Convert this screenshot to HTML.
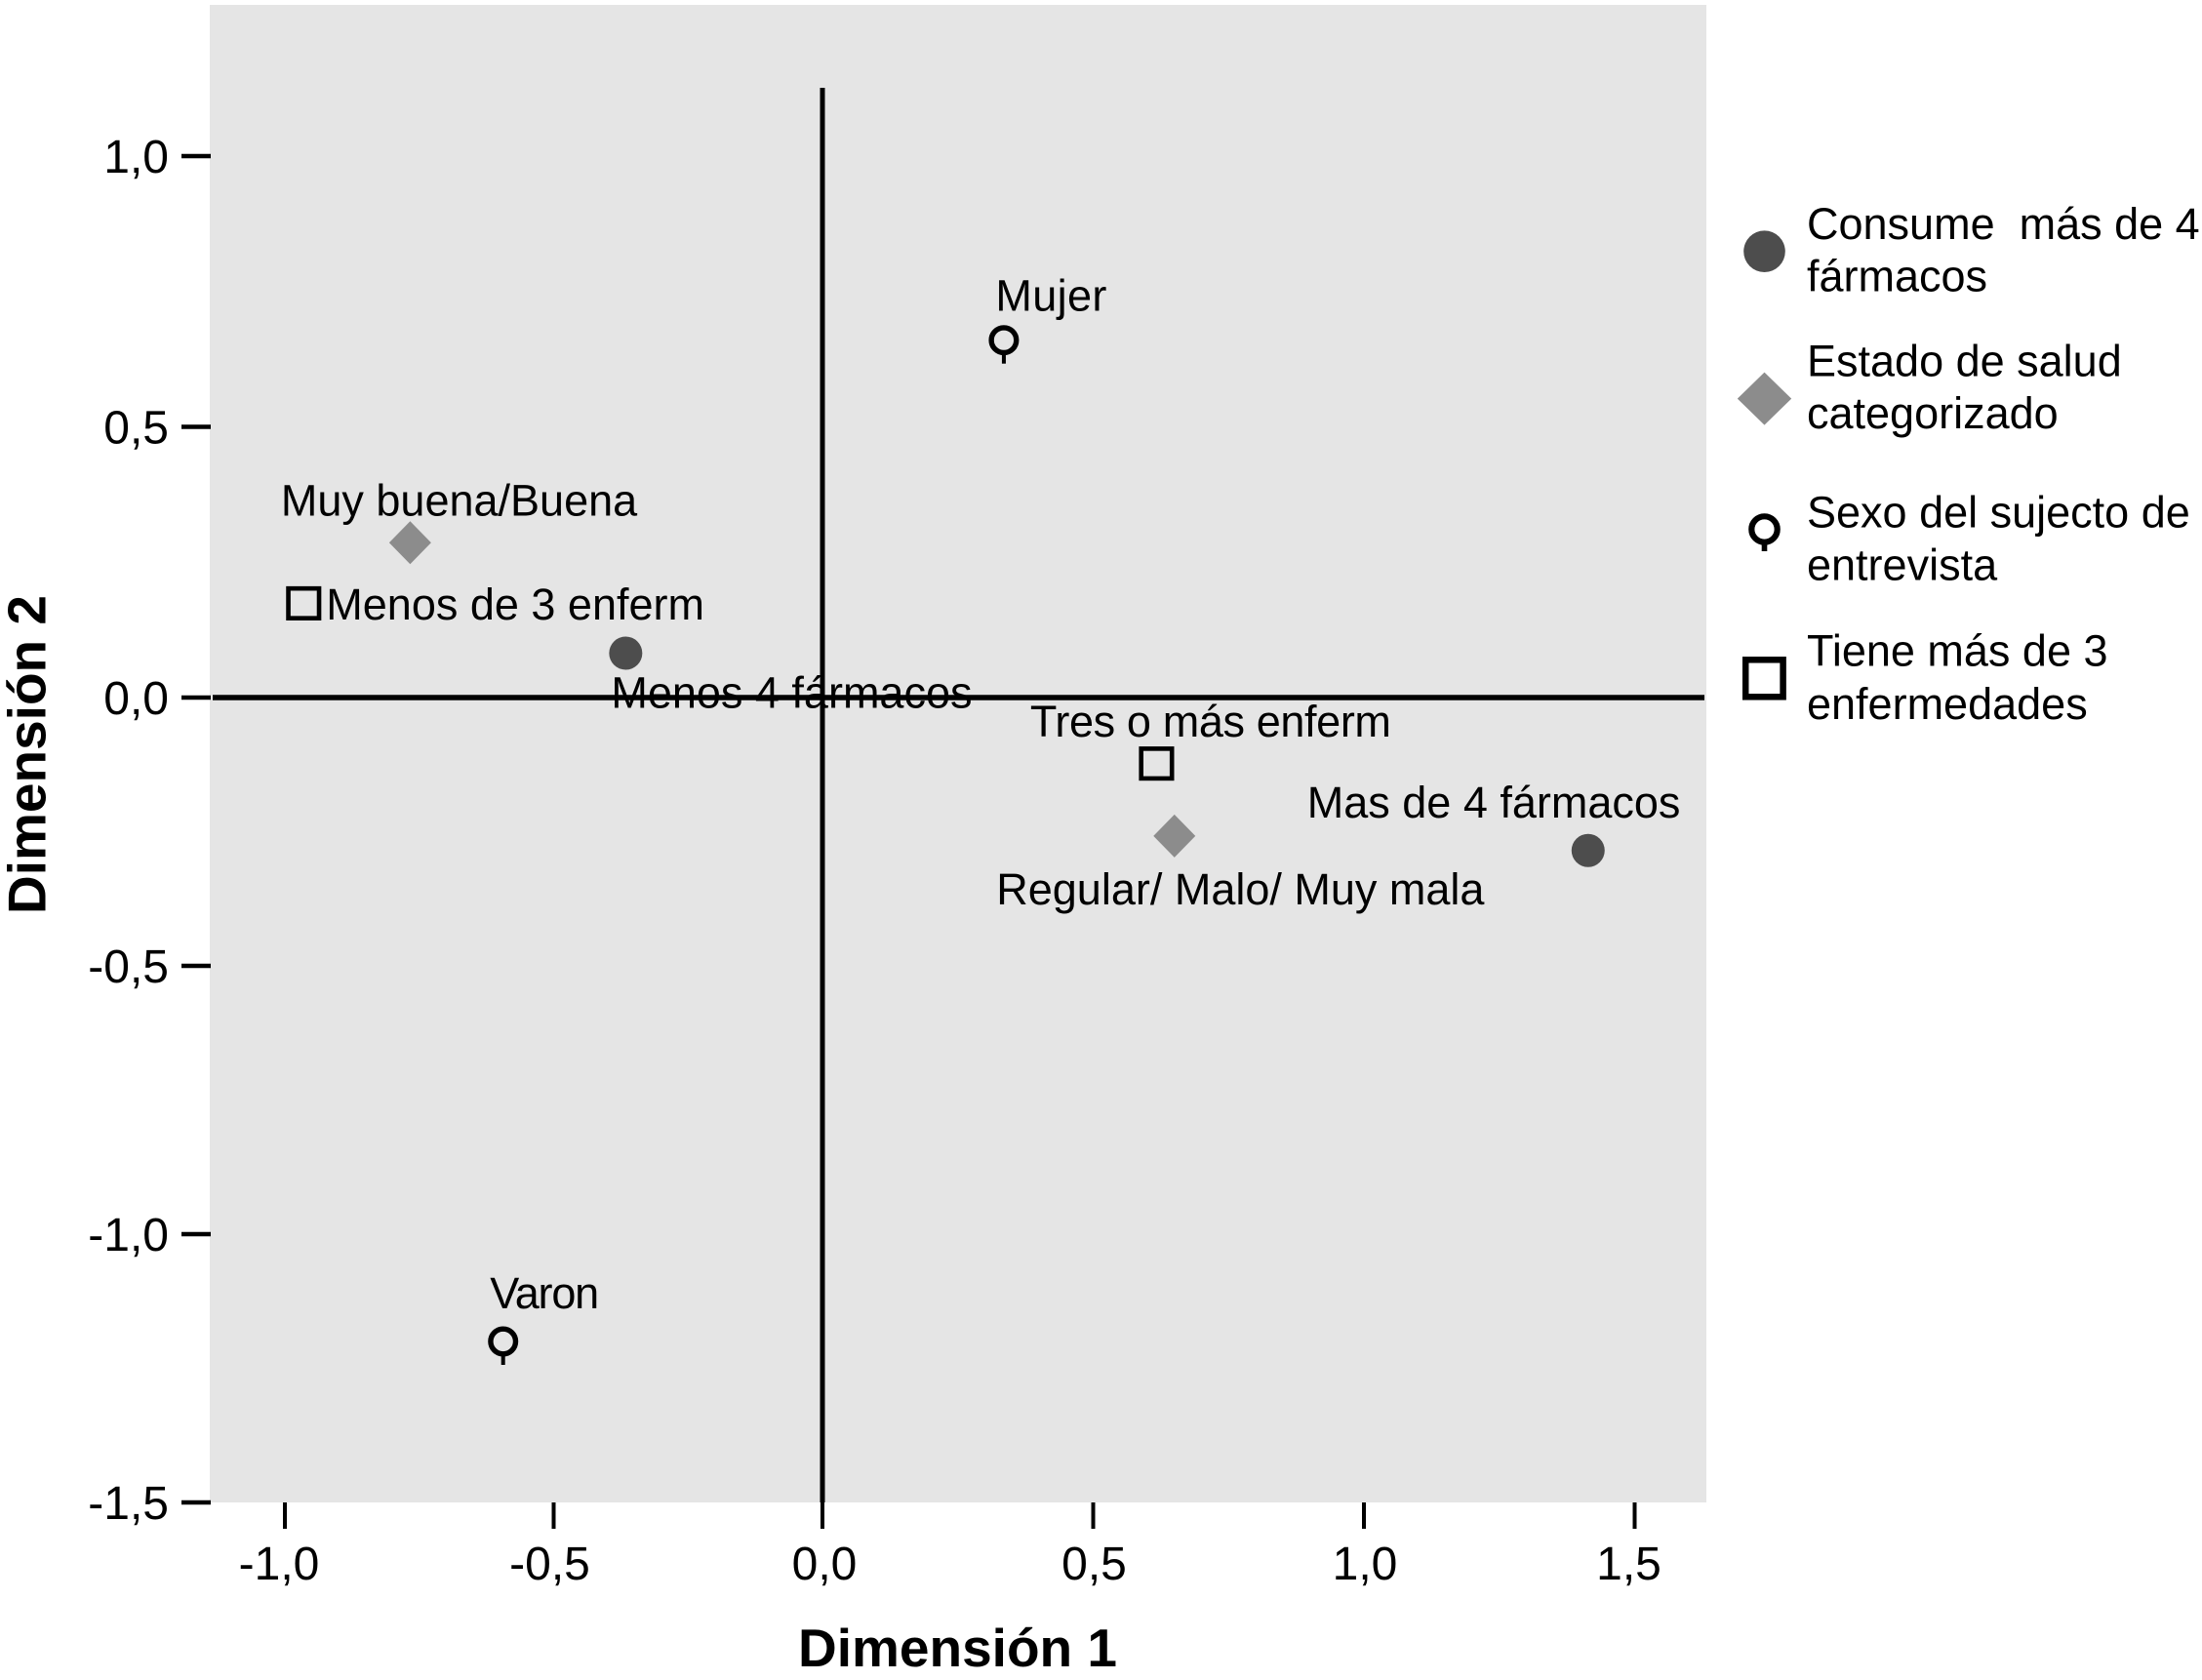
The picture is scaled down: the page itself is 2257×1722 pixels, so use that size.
<!DOCTYPE html>
<html lang="es">
<head>
<meta charset="utf-8">
<title>Dimensión 1 / Dimensión 2</title>
<style>
html,body{margin:0;padding:0;background:#fff;}
svg{display:block;}
text{font-family:"Liberation Sans",Arial,sans-serif;fill:#000;white-space:pre;}
</style>
</head>
<body>
<svg id="chart" xmlns="http://www.w3.org/2000/svg" width="2257" height="1722" viewBox="0 0 2257 1722">
  <rect x="0" y="0" width="2257" height="1722" fill="#fff"/>
  <rect x="215" y="5" width="1534" height="1535" fill="#e5e5e5"/>
  <g id="axes"></g>
  <g id="marks"></g>
  <text x="818" y="1708" font-size="55" font-weight="700">Dimensión 1</text>
  <text transform="translate(46.5,937) rotate(-90)" font-size="55" font-weight="700">Dimensión 2</text>
  <g>
    <g>
      <circle cx="1808.5" cy="257.7" r="21.3" fill="#4d4d4d"/>
      <text x="1852" y="245" font-size="45">Consume  más de 4</text>
      <text x="1852" y="298.5" font-size="45">fármacos</text>
    </g>
    <g>
      <polygon points="1808.5,381.6 1836.2,408.6 1808.5,435.6 1780.8,408.6" fill="#8c8c8c"/>
      <text x="1852" y="385.5" font-size="45">Estado de salud</text>
      <text x="1852" y="439" font-size="45">categorizado</text>
    </g>
    <g>
      <circle cx="1808.5" cy="542.5" r="13.2" fill="none" stroke="#000" stroke-width="6.2"/>
      <rect x="1805.7" y="556" width="5.6" height="9" fill="#000"/>
      <text x="1852" y="540.5" font-size="45">Sexo del sujecto de</text>
      <text x="1852" y="594.5" font-size="45">entrevista</text>
    </g>
    <g>
      <rect x="1789.2" y="676.3" width="38.4" height="38" fill="none" stroke="#000" stroke-width="6.5"/>
      <text x="1852" y="682.5" font-size="45">Tiene más de 3</text>
      <text x="1852" y="737" font-size="45">enfermedades</text>
    </g>
  </g>
</svg>
<script>
const pointLabels = ["Muy buena/Buena","Menos de 3 enferm","Menos 4 fármacos","Mujer","Tres o más enferm","Regular/ Malo/ Muy mala","Mas de 4 fármacos","Varon"];
const pointVariables = ["salud","enfermedades","farmacos","sexo","enfermedades","salud","farmacos","sexo"];
const dimension1 = [-0.767,-0.965,-0.366,0.335,0.617,0.650,1.414,-0.594];
const dimension2 = [0.286,0.174,0.082,0.660,-0.123,-0.258,-0.285,-1.200];
const xTickValues = [-1.0,-0.5,0.0,0.5,1.0,1.5];
const xTickLabels = ["-1,0","-0,5","0,0","0,5","1,0","1,5"];
const yTickValues = [1.0,0.5,0.0,-0.5,-1.0,-1.5];
const yTickLabels = ["1,0","0,5","0,0","-0,5","-1,0","-1,5"];

const NS = "http://www.w3.org/2000/svg";
const xScale = v => 843 + v * (v >= 0 ? 555 : 551);
const yScale = v => 715 - v * (v >= 0 ? 555 : 550);

function make(parent, tag, attrs, content) {
  const el = document.createElementNS(NS, tag);
  for (const k in attrs) el.setAttribute(k, attrs[k]);
  if (content !== undefined) el.textContent = content;
  parent.appendChild(el);
  return el;
}

function drawAxes() {
  const g = document.getElementById("axes");
  const xLabelNudge = {"-1,0": -6, "-0,5": -4, "0,0": 2, "0,5": 1, "1,0": 1, "1,5": -6};
  xTickValues.forEach((v, i) => {
    const x = xScale(v);
    const tick = make(g, "rect", {x: x - 2, y: 1540, width: 4, height: 27, fill: "#000"});
    
    
    const label = make(g, "text", {x: x + xLabelNudge[xTickLabels[i]], y: 1619, "font-size": 48, "text-anchor": "middle"}, xTickLabels[i]);
    
    
  });
  yTickValues.forEach((v, i) => {
    const y = yScale(v);
    const tick = make(g, "rect", {x: 186, y: y - 2.25, width: 30, height: 4.5, fill: "#000"});
    
    
    const label = make(g, "text", {x: 173, y: y + 17, "font-size": 48, "text-anchor": "end"}, yTickLabels[i]);
    
    
  });
  const h = make(g, "rect", {x: 218, y: yScale(0) - 2.75, width: 1529, height: 5.5, fill: "#000"});
  
  
  const vLine = make(g, "rect", {x: xScale(0) - 2.5, y: 90, width: 5, height: 1450, fill: "#000"});
  
  
}

function drawMarker(g, kind, cx, cy) {
  if (kind === "farmacos") {
    const c = make(g, "circle", {cx: cx, cy: cy, r: 17, fill: "#4d4d4d"});
    
    
  } else if (kind === "salud") {
    const p = make(g, "polygon", {
      points: [[cx, cy - 22], [cx + 21.5, cy], [cx, cy + 22], [cx - 21.5, cy]].join(" "),
      fill: "#8c8c8c"
    });
    
    
  } else if (kind === "enfermedades") {
    const r = make(g, "rect", {x: cx - 15.75, y: cy - 15.25, width: 31.5, height: 30.5, fill: "none", stroke: "#000", "stroke-width": 4.6});
    
    
  } else {
    const ring = make(g, "circle", {cx: cx, cy: cy, r: 12.8, fill: "none", stroke: "#000", "stroke-width": 5.4});
    
    
    const stem = make(g, "rect", {x: cx - 2, y: cy + 14, width: 4, height: 10, fill: "#000"});
    
    
  }
}

function drawPoints() {
  const g = document.getElementById("marks");
  const labelLayout = {
    "Muy buena/Buena": {dx: -132.5, dy: -28},
    "Menos de 3 enferm": {dx: 23, dy: 16.5},
    "Menos 4 fármacos": {dx: -15, dy: 56},
    "Mujer": {dx: -8.5, dy: -30, len: 114},
    "Tres o más enferm": {dx: -129.5, dy: -27.5, len: 370},
    "Regular/ Malo/ Muy mala": {dx: -182.5, dy: 70},
    "Mas de 4 fármacos": {dx: -288, dy: -34},
    "Varon": {dx: -13.5, dy: -34, len: 112}
  };
  pointLabels.forEach((name, i) => {
    const cx = xScale(dimension1[i]);
    const cy = yScale(dimension2[i]);
    drawMarker(g, pointVariables[i], cx, cy);
    const layout = labelLayout[name];
    const attrs = {x: cx + layout.dx, y: cy + layout.dy, "font-size": 45};
    if (layout.len) attrs.textLength = layout.len;
    const t = make(g, "text", attrs, name);
    
    
  });
}

drawAxes();
drawPoints();
</script>
</body>
</html>
